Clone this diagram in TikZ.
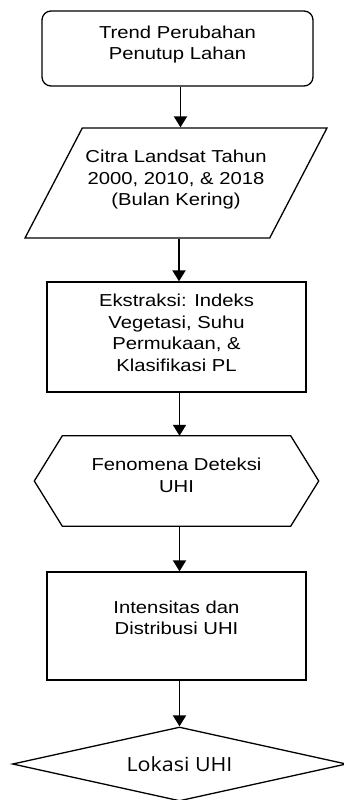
\documentclass[tikz,border=0pt]{standalone}
\usepackage{fontspec}
\setmainfont{Liberation Sans}[FakeStretch=1.17]
\newfontfamily\lokasifont{Open Sans}[FakeStretch=1.1]
\usetikzlibrary{shapes.geometric,arrows.meta}

\begin{document}
\begin{tikzpicture}[x=1pt,y=-1pt]
  \tikzstyle{bentuk}=[draw,line width=1.3pt,inner sep=2pt]
  \tikzstyle{teks}=[align=center,text=black,font=\fontsize{17.3}{21.5}\selectfont]
  \tikzstyle{panah}=[line width=1.9pt,-{Triangle[length=11pt,width=13pt]}]

  \useasboundingbox (0,0) rectangle (343,800);

  % Mulai
  \node[bentuk,rounded corners=9pt,minimum width=271pt,minimum height=75pt] (tren) at (177.5,48.5) {};
  \node[teks] (tren-teks) at ([yshift=4pt]tren.center) {Trend Perubahan\\Penutup Lahan};

  % Data citra
  \node[bentuk,trapezium,trapezium left angle=73,trapezium right angle=107,
        trapezium stretches=true,minimum width=302pt,minimum height=110pt] (citra) at (176,183) {};
  \node[teks] (citra-teks) at ([yshift=3pt]citra.center) {Citra Landsat Tahun\\2000, 2010, \& 2018\\(Bulan Kering)};

  % Ekstraksi
  \node[bentuk,minimum width=259pt,minimum height=110pt] (ekstraksi) at (176.5,337) {};
  \node[teks] (ekstraksi-teks) at ([yshift=4pt]ekstraksi.center) {Ekstraksi: Indeks\\Vegetasi, Suhu\\Permukaan, \&\\Klasifikasi PL};

  % Fenomena (segi enam)
  \node[minimum width=228pt,minimum height=90pt,inner sep=0pt] (fenomena) at (176.5,481) {};
  \draw[line width=1.3pt,line join=miter] (fenomena.north west) -- (fenomena.north east)
    -- ([xshift=28pt]fenomena.east) -- (fenomena.south east) -- (fenomena.south west)
    -- ([xshift=-28pt]fenomena.west) -- cycle;
  \node[teks] (fenomena-teks) at ([yshift=5.5pt]fenomena.center) {Fenomena Deteksi\\UHI};

  % Intensitas
  \node[bentuk,minimum width=259pt,minimum height=108pt] (intensitas) at (176.5,626) {};
  \node[teks] (intensitas-teks) at ([yshift=8pt]intensitas.center) {Intensitas dan\\Distribusi UHI};

  % Lokasi
  \node[bentuk,diamond,aspect=4.5,minimum width=334pt,minimum height=74pt] (lokasi) at (179.5,764) {};
  \node[teks,font=\lokasifont\fontsize{19.5}{22}\selectfont] (lokasi-teks) at (lokasi.center) {Lokasi UHI};

  % Panah
  \draw[panah] ([xshift=3pt]tren.south) -- ([xshift=3pt]tren.south |- citra.north);
  \draw[panah] ([xshift=3pt]citra.south) -- ([xshift=3pt]citra.south |- ekstraksi.north);
  \draw[panah] ([xshift=3pt]ekstraksi.south) -- ([xshift=3pt]ekstraksi.south |- fenomena.north);
  \draw[panah] ([xshift=3pt]fenomena.south) -- ([xshift=3pt]fenomena.south |- intensitas.north);
  \draw[panah] ([xshift=3pt]intensitas.south) -- ([xshift=3pt]intensitas.south |- lokasi.north);
\end{tikzpicture}
\end{document}
